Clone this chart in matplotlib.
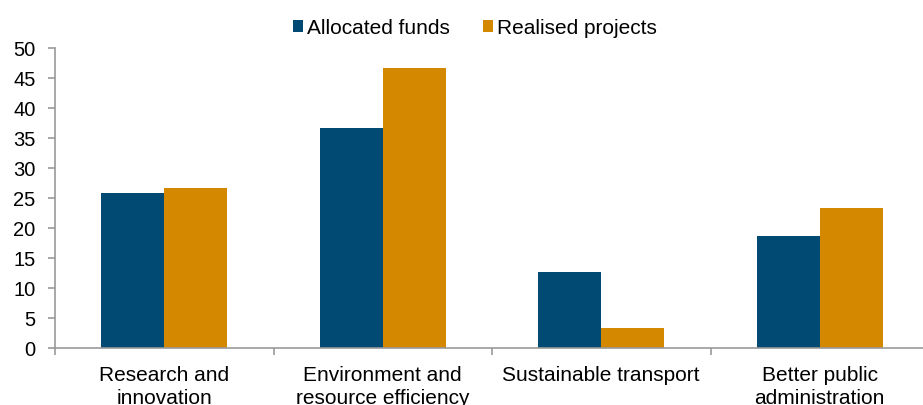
import matplotlib
matplotlib.use("Agg")
import matplotlib.pyplot as plt
import numpy as np

plt.rcParams['font.family'] = ['Liberation Sans', 'DejaVu Sans']

categories = ["Research and\ninnovation", "Environment and\nresource efficiency",
              "Sustainable transport", "Better public\nadministration"]
allocated = [25.9, 36.6, 12.6, 18.6]
realised = [26.6, 46.7, 3.3, 23.3]
series_names = ["Allocated funds", "Realised projects"]
colors = ["#004a73", "#d48800"]

fig = plt.figure(figsize=(9.23, 4.05), dpi=100)
ax = fig.add_axes([55 / 923, 57 / 405, 874 / 923, 300 / 405])

x = np.arange(len(categories))
w = 0.288
ax.bar(x - w / 2, allocated, w, color=colors[0], label=series_names[0])
ax.bar(x + w / 2, realised, w, color=colors[1], label=series_names[1])

ax.set_xlim(-0.5, len(categories) - 0.5)
ax.set_ylim(0, 50)
ax.set_yticks(np.arange(0, 51, 5))
ax.tick_params(axis='y', labelsize=14.5, length=5, width=1.2, color='#999999', pad=9)

# category separators as major ticks, labels on minor ticks
ax.set_xticks(np.arange(-0.5, len(categories), 1.0))
ax.set_xticklabels([])
ax.tick_params(axis='x', which='major', length=5, width=1.2, color='#999999')
ax.set_xticks(x, minor=True)
ax.set_xticklabels(categories, minor=True, fontsize=15, linespacing=1.25)
ax.tick_params(axis='x', which='minor', length=0, pad=13)

for s in ['top', 'right']:
    ax.spines[s].set_visible(False)
for s in ['left', 'bottom']:
    ax.spines[s].set_color('#999999')
    ax.spines[s].set_linewidth(1.2)

fig.legend(loc='center', bbox_to_anchor=(475 / 923, 1 - 28 / 405), ncol=2,
           frameon=False, fontsize=15, handlelength=0.48, handleheight=0.48,
           handletextpad=0.2, columnspacing=1.55)

fig.savefig("out.png", dpi=100)
